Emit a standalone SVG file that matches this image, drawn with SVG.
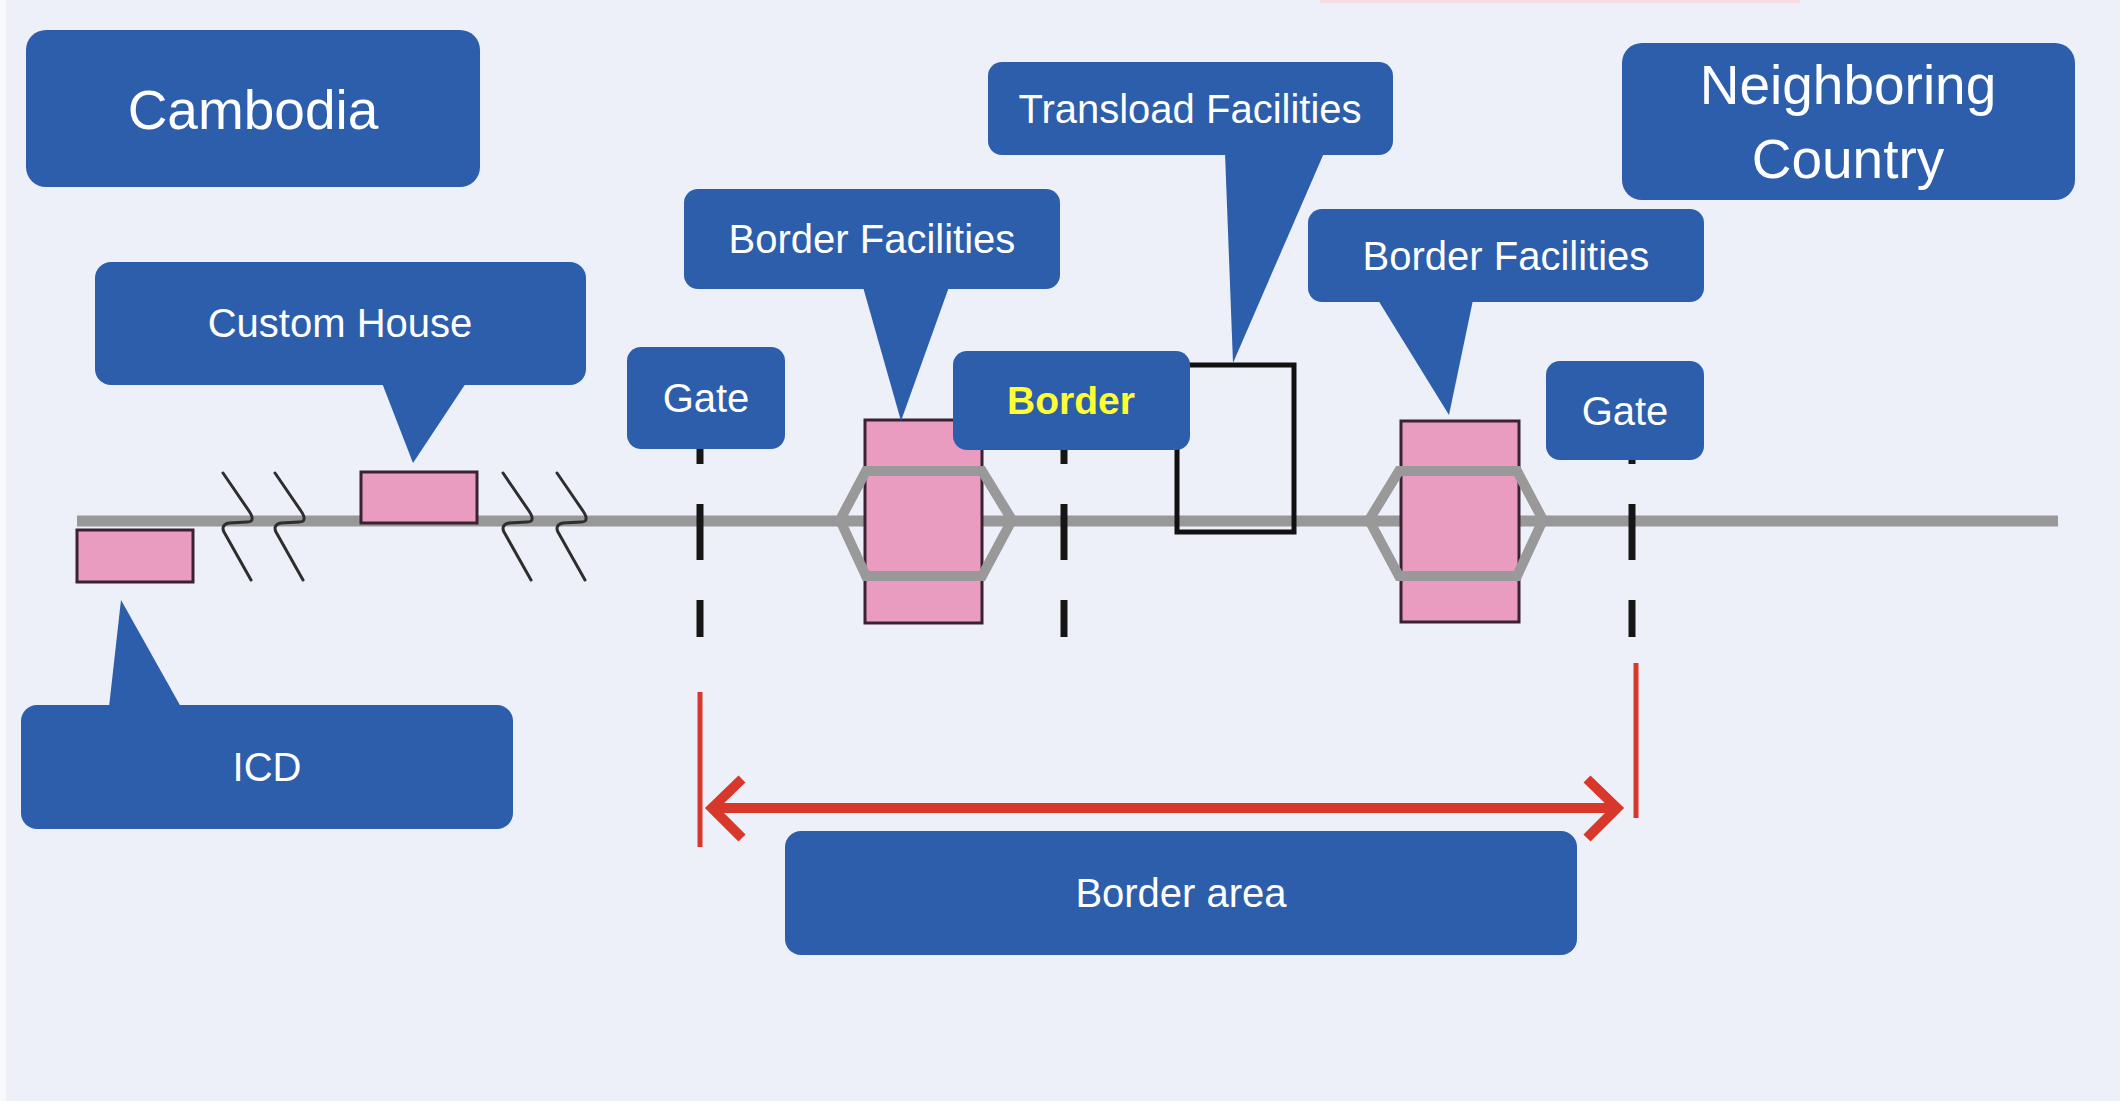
<svg xmlns="http://www.w3.org/2000/svg" width="2120" height="1101" viewBox="0 0 2120 1101">
<style>
.box{fill:#2C5EAC}
.lbl{font-family:"Liberation Sans",Arial,sans-serif;fill:#FFFFFF;text-anchor:middle;font-size:40px}
.big{font-size:55px}
.yel{fill:#FFFF33;font-weight:bold;font-size:39px}
.pink{fill:#E99CC0;stroke:#3A2232;stroke-width:3}
.hex{fill:none;stroke:#999999;stroke-width:10;stroke-linejoin:miter}
.brk{fill:none;stroke:#2E2E2E;stroke-width:3;stroke-linecap:round;stroke-linejoin:round}
.dash{stroke:#161616;stroke-width:7;stroke-dasharray:56 40}
.red{fill:none;stroke:#D8372C;stroke-linecap:butt}
</style>
<defs>
<path id="brkmark" class="brk" d="M0,0 L26,38 C30,44 31,49 24,49 L6,50 C0,51 -1,55 1,59 L28,107"/>
</defs>
<rect x="0" y="0" width="2120" height="1101" fill="#EDF0F8"/>
<rect x="0" y="0" width="6" height="1101" fill="#F8F9FC"/>
<rect x="1320" y="0" width="480" height="3" fill="#F7DCE2"/>

<g id="track">
<line x1="77" y1="521" x2="2058" y2="521" stroke="#989898" stroke-width="11"/>
</g>

<g id="breaks">
<use href="#brkmark" x="223" y="473"/>
<use href="#brkmark" x="275" y="473"/>
<use href="#brkmark" x="503" y="473"/>
<use href="#brkmark" x="557" y="473"/>
</g>

<g id="dashes">
<line class="dash" x1="700" y1="408" x2="700" y2="637"/>
<line class="dash" x1="1064" y1="408" x2="1064" y2="637"/>
<line class="dash" x1="1632" y1="408" x2="1632" y2="637"/>
</g>

<g id="facilities">
<rect id="icd-yard" class="pink" x="77" y="530" width="116" height="52"/>
<rect id="custom-house-bldg" class="pink" x="361" y="472" width="116" height="51"/>
<rect id="bf1-bldg" class="pink" x="865" y="420" width="117" height="203"/>
<polygon class="hex" points="840,520 866,471 982,471 1012,520 982,576 866,576"/>
<rect id="bf2-bldg" class="pink" x="1401" y="421" width="118" height="201"/>
<polygon class="hex" points="1369,520 1399,471 1517,471 1543,520 1517,576 1399,576"/>
<rect id="transload-bldg" x="1177" y="365" width="117" height="167" fill="none" stroke="#111111" stroke-width="5"/>
</g>

<g id="connectors">
<line class="red" x1="700" y1="692" x2="700" y2="847" stroke-width="5"/>
<line class="red" x1="1636" y1="663" x2="1636" y2="818" stroke-width="5"/>
<line class="red" x1="713" y1="808" x2="1616" y2="808" stroke-width="10"/>
<polyline class="red" points="742,779 712,808 742,838" stroke-width="10"/>
<polyline class="red" points="1587,779 1617,808 1587,838" stroke-width="10"/>
</g>

<g id="cambodia">
<rect class="box" x="26" y="30" width="454" height="157" rx="20"/>
<text class="lbl big" x="253" y="129">Cambodia</text>
</g>

<g id="custom-house">
<rect class="box" x="95" y="262" width="491" height="123" rx="16"/>
<polygon class="box" points="382,383 466,383 413,463"/>
<text class="lbl" x="340" y="337">Custom House</text>
</g>

<g id="gate-1">
<rect class="box" x="627" y="347" width="158" height="102" rx="14"/>
<text class="lbl" x="706" y="412">Gate</text>
</g>

<g id="border-facilities-1">
<rect class="box" x="684" y="189" width="376" height="100" rx="14"/>
<polygon class="box" points="863,287 949,287 901,421"/>
<text class="lbl" x="872" y="253">Border Facilities</text>
</g>

<g id="transload-facilities">
<rect class="box" x="988" y="62" width="405" height="93" rx="14"/>
<polygon class="box" points="1225,153 1324,153 1233,363"/>
<text class="lbl" x="1190" y="123">Transload Facilities</text>
</g>

<g id="border">
<rect class="box" x="953" y="351" width="237" height="99" rx="14"/>
<text class="lbl yel" x="1071" y="414">Border</text>
</g>

<g id="border-facilities-2">
<rect class="box" x="1308" y="209" width="396" height="93" rx="14"/>
<polygon class="box" points="1378,300 1473,300 1449,415"/>
<text class="lbl" x="1506" y="270">Border Facilities</text>
</g>

<g id="gate-2">
<rect class="box" x="1546" y="361" width="158" height="99" rx="14"/>
<text class="lbl" x="1625" y="425">Gate</text>
</g>

<g id="neighboring-country">
<rect class="box" x="1622" y="43" width="453" height="157" rx="20"/>
<text class="lbl big" x="1848" y="104">Neighboring</text>
<text class="lbl big" x="1848" y="178">Country</text>
</g>

<g id="icd">
<rect class="box" x="21" y="705" width="492" height="124" rx="16"/>
<polygon class="box" points="109,707 181,707 121,600"/>
<text class="lbl" x="267" y="781">ICD</text>
</g>

<g id="border-area">
<rect class="box" x="785" y="831" width="792" height="124" rx="16"/>
<text class="lbl" x="1181" y="907">Border area</text>
</g>
</svg>
